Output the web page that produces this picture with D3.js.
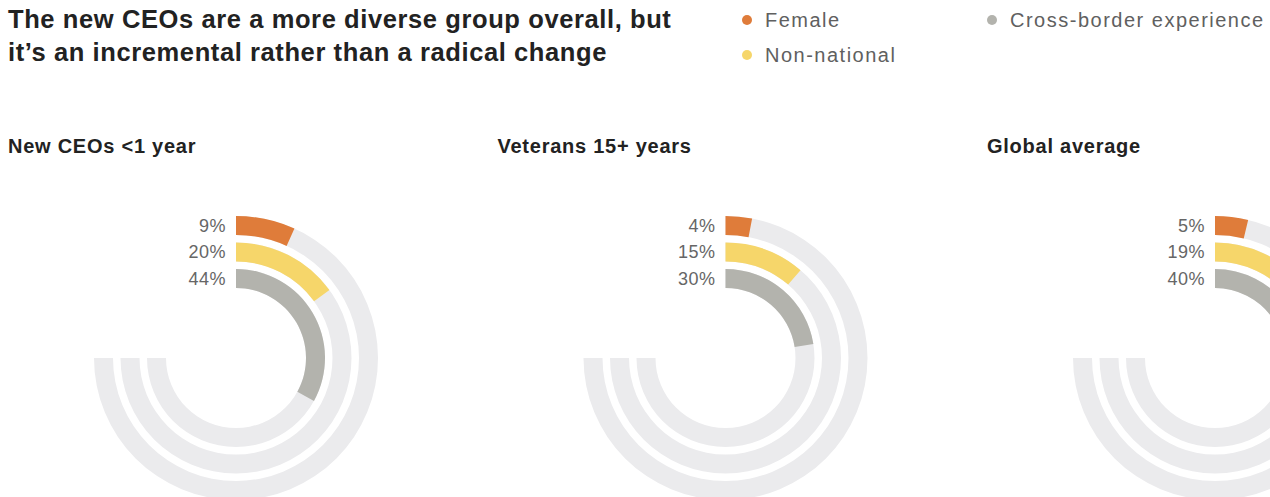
<!DOCTYPE html>
<html>
<head>
<meta charset="utf-8">
<script src="https://cdn.jsdelivr.net/npm/d3@7"></script>
<style>
  body { margin: 0; background: #fff; }
  svg { display: block; font-family: "Liberation Sans", Arial, sans-serif; }
</style>
</head>
<body>
<svg id="chart" width="1270" height="497"></svg>
<script>
// Data
const panels = ["New CEOs <1 year", "Veterans 15+ years", "Global average"];
const series = ["Female", "Non-national", "Cross-border experience"];
const female = [9, 4, 5];
const nonNational = [20, 15, 19];
const crossBorder = [44, 30, 40];
const colors = ["#DF7C3A", "#F6D66A", "#B3B3AD"];
const trackColor = "#EBEBED";

const svg = d3.select("#chart");

// Title
const title = svg.append("text")
    .attr("fill", "#222")
    .style("font-size", "25.5px")
    .style("font-weight", 700)
    .style("letter-spacing", "0.6px");
title.append("tspan").attr("x", 8).attr("y", 28).text("The new CEOs are a more diverse group overall, but");
title.append("tspan").attr("x", 8).attr("y", 60.5).text("it\u2019s an incremental rather than a radical change");

// Legend
const legendPos = [[747, 20], [747, 55], [992, 20]];
series.forEach((s, i) => {
    const g = svg.append("g").attr("transform", `translate(${legendPos[i][0]},${legendPos[i][1]})`);
    g.append("circle").attr("r", 5).attr("fill", colors[i]);
    g.append("text")
        .attr("x", 18)
        .attr("dy", "0.36em")
        .attr("fill", "#606060")
        .style("font-size", "20px")
        .style("letter-spacing", "1.5px")
        .text(s);
});

// Scales
const x = d3.scalePoint().domain(panels).range([236, 1215]);
const angle = d3.scaleLinear().domain([0, 100]).range([0, 1.5 * Math.PI]);
const r = d3.scaleBand()
    .domain(series.slice().reverse())
    .range([70, 142])
    .paddingInner(0.283);

const centerY = 358;
const arc = d3.arc();

panels.forEach((p, pi) => {
    const values = [female[pi], nonNational[pi], crossBorder[pi]];
    const cx = x(p);

    svg.append("text")
        .attr("x", cx - 228)
        .attr("y", 153)
        .attr("fill", "#222")
        .style("font-size", "20px")
        .style("font-weight", 700)
        .style("letter-spacing", "0.75px")
        .text(p);

    const g = svg.append("g").attr("transform", `translate(${cx},${centerY})`);

    series.forEach((s, si) => {
        const inner = r(s), outer = r(s) + r.bandwidth();
        // track
        g.append("path")
            .attr("d", arc({innerRadius: inner, outerRadius: outer, startAngle: 0, endAngle: angle(100)}))
            .attr("fill", trackColor);
        // value
        g.append("path")
            .attr("d", arc({innerRadius: inner, outerRadius: outer, startAngle: 0, endAngle: angle(values[si])}))
            .attr("fill", colors[si]);
        // label
        g.append("text")
            .attr("x", -10)
            .attr("y", -(inner + outer) / 2)
            .attr("dy", "0.36em")
            .attr("text-anchor", "end")
            .attr("fill", "#666")
            .style("font-size", "18px")
            .style("letter-spacing", "0.5px")
            .text(values[si] + "%");
    });
});
</script>
</body>
</html>
